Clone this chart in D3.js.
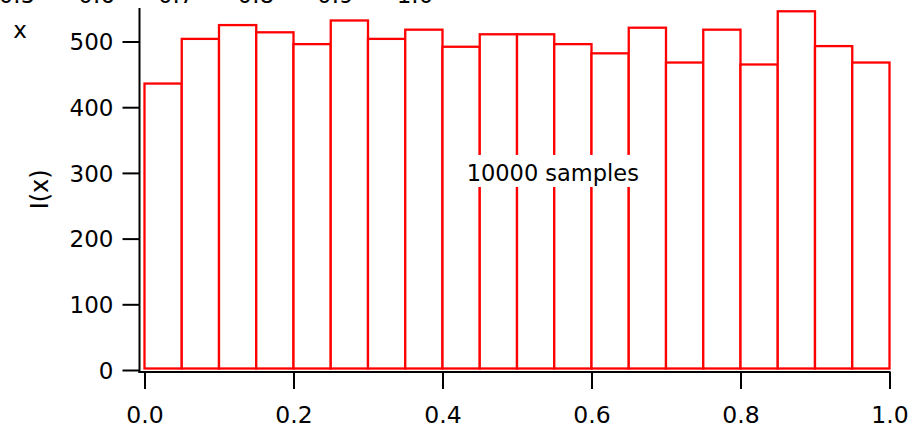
<!DOCTYPE html>
<html>
<head>
<meta charset="utf-8">
<script src="https://cdn.jsdelivr.net/npm/d3@7"></script>
<style>
  html, body { margin: 0; padding: 0; background: #fff; }
  svg { display: block; }
  text { font-family: "DejaVu Sans", sans-serif; font-size: 23px; fill: #000; }
</style>
</head>
<body>
<svg id="chart" width="912" height="431"></svg>
<script>
// ---- data ----
const binStarts = [0.00,0.05,0.10,0.15,0.20,0.25,0.30,0.35,0.40,0.45,0.50,0.55,0.60,0.65,0.70,0.75,0.80,0.85,0.90,0.95];
const binWidth = 0.05;
const counts = [436,504,525,514,496,532,504,518,492,511,511,496,482,521,468,518,465,546,493,468];
const xTicks = [0.0,0.2,0.4,0.6,0.8,1.0];
const yTicks = [0,100,200,300,400,500];
const topAxisTicks = [0.5,0.6,0.7,0.8,0.9,1.0];   // cut-off labels of the chart above
const yLabel = "I(x)";
const topAxisTitle = "x";
const annotation = "10000 samples";

// ---- layout ----
const svg = d3.select("#chart");
const x = d3.scaleLinear().domain([0, 1]).range([144.5, 889.5]);
const y = d3.scaleLinear().domain([0, 551]).range([370, 8]);
const xTop = d3.scaleLinear().domain([0.5, 1.0]).range([17, 415]);

// bars
svg.append("g").selectAll("rect").data(counts).join("rect")
  .attr("x", (d, i) => x(binStarts[i]))
  .attr("y", d => y(d))
  .attr("width", (d, i) => x(binStarts[i] + binWidth) - x(binStarts[i]))
  .attr("height", d => y(0) - 1.5 - y(d))
  .attr("fill", "#fff")
  .attr("stroke", "#ff0000")
  .attr("stroke-width", 2.3);

// annotation box + text
const ax = x(0.548), ay = y(287);
svg.append("rect")
  .attr("x", ax - 92).attr("y", ay - 26.5)
  .attr("width", 184).attr("height", 32)
  .attr("fill", "#fff");
svg.append("text")
  .attr("x", ax).attr("y", ay)
  .attr("text-anchor", "middle")
  .style("font-size", "22.5px")
  .text(annotation);

// y axis (offset left of plot)
const yAxis = d3.axisLeft(y).tickValues(yTicks).tickSize(17).tickPadding(9)
  .tickFormat(d3.format("d"));
const gy = svg.append("g").attr("transform", "translate(139.5,0)").call(yAxis);
gy.select(".domain").attr("d", `M0,${y(551)}V${y(0) + 3}`).attr("stroke-width", 2);
gy.selectAll(".tick line").attr("stroke-width", 2);
gy.selectAll("text").style("font-family", '"DejaVu Sans", sans-serif').style("font-size", "23px").attr("dy", "0.36em");

// x axis (offset below plot)
const xAxis = d3.axisBottom(x).tickValues(xTicks).tickSize(17).tickPadding(17)
  .tickFormat(d3.format(".1f"));
const gx = svg.append("g").attr("transform", "translate(0,372)").call(xAxis);
gx.select(".domain").attr("d", `M138.5,0H${x(1) + 1}`).attr("stroke-width", 2);
gx.selectAll(".tick line").attr("stroke-width", 2);
gx.selectAll("text").style("font-family", '"DejaVu Sans", sans-serif').style("font-size", "23.5px");

// y label
svg.append("text")
  .attr("transform", `translate(48,${y(275)}) rotate(-90)`)
  .attr("text-anchor", "middle")
  .style("font-size", "24px")
  .text(yLabel);

// remnants of the chart above: cut-off tick labels and axis title
svg.append("g").selectAll("text").data(topAxisTicks).join("text")
  .attr("x", d => xTop(d)).attr("y", 3)
  .attr("text-anchor", "middle")
  .text(d => d3.format(".1f")(d));
svg.append("text").attr("x", 20).attr("y", 38).attr("text-anchor", "middle").text(topAxisTitle);
</script>
</body>
</html>
